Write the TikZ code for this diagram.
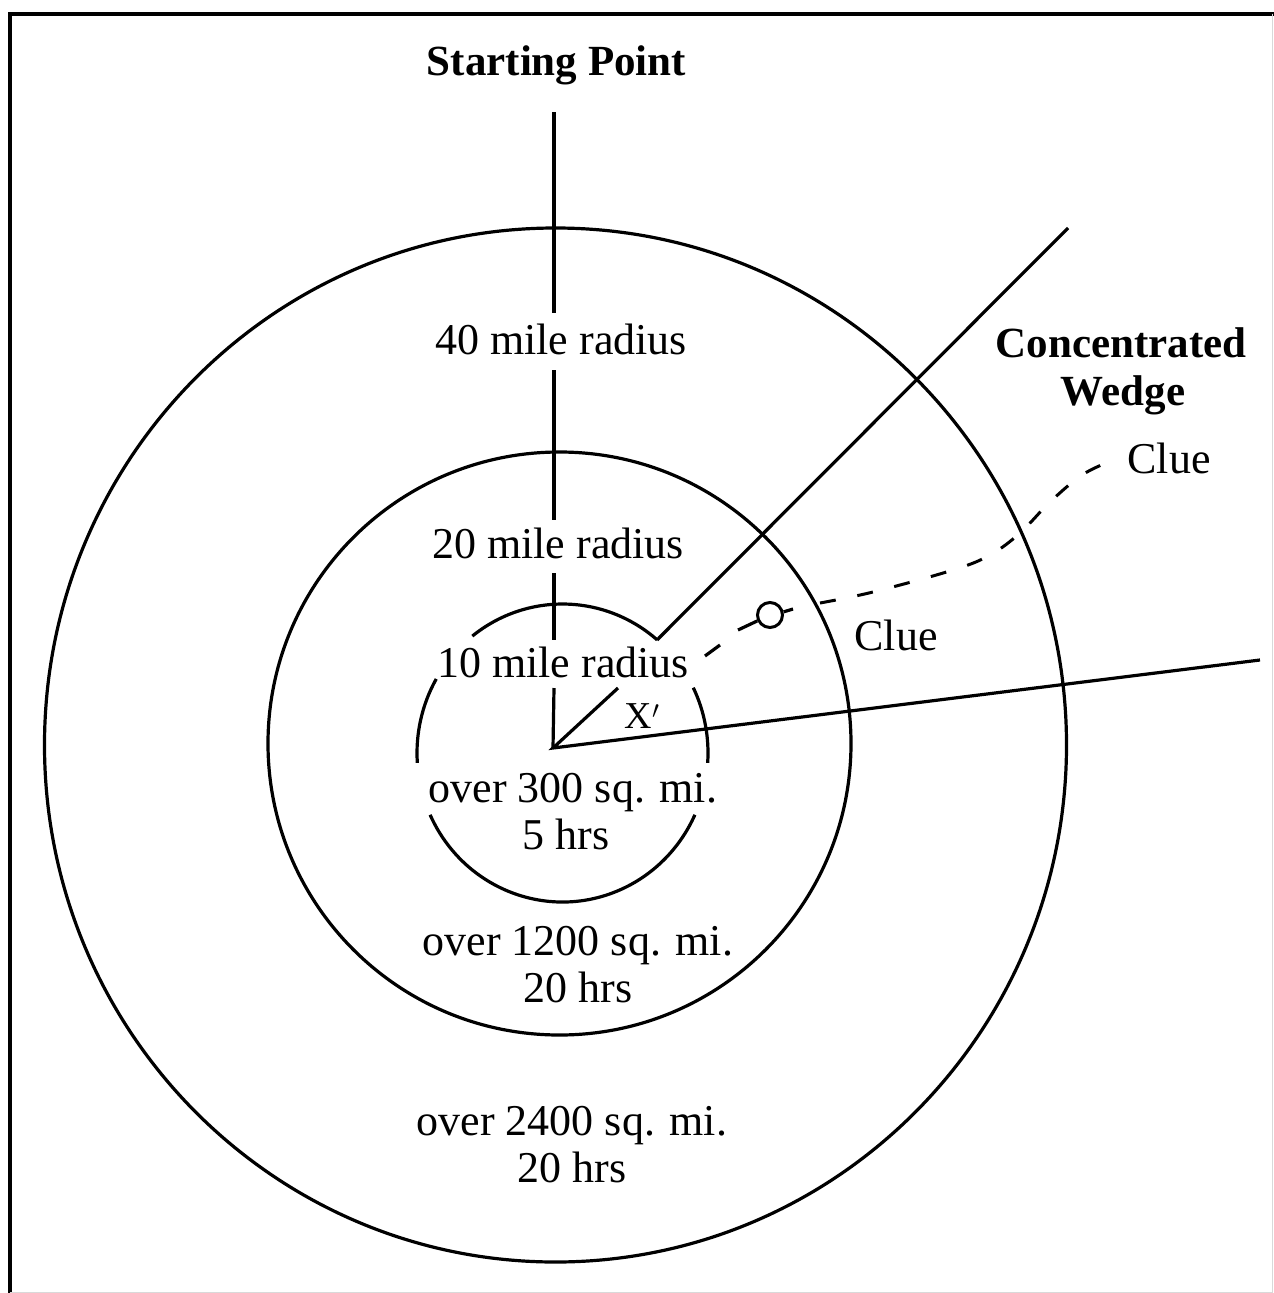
\documentclass[tikz,border=0pt]{standalone}
\usepackage{fontspec}
\setmainfont{Liberation Serif}
\begin{document}
\begin{tikzpicture}[x=1pt,y=-1pt,
  ln/.style={line width=3.2pt},
  lbl/.style={inner sep=0pt, anchor=base, font=\fontsize{44}{47}\selectfont},
  blbl/.style={inner sep=0pt, anchor=base, font=\fontsize{43}{48}\selectfont\bfseries},
  dsh/.style={line width=3pt, dash pattern=on 16pt off 22pt}]
\useasboundingbox (0,0) rectangle (1274,1293);
% frame
\draw[line width=4pt] (9.5,1293) -- (9.5,13.5) -- (1274,13.5);
\draw[line width=1pt, black!15] (1272,13.5) -- (1272,1292) -- (9.5,1292);
% centres
\coordinate (O) at (553,748);
\coordinate (C1) at (555.5,745);
\coordinate (C2) at (559.5,743.5);
\coordinate (C3) at (562.5,753);
% circles
\draw[ln] (C1) ellipse [x radius=511, y radius=517];
\draw[ln] (C2) ellipse [x radius=291.5, y radius=291.5];
\foreach \a/\b in {-49.4/-128.3, -150.2/-183.8, -204.5/-335.5, 3.8/-26}
  \draw[ln] ([shift={(\a:145.5 and 149)}]C3) arc[start angle=\a, end angle=\b, x radius=145.5, y radius=149];
% vertical line from starting point
\coordinate (v0) at (554,112);
\coordinate (v1) at (554,313);
\coordinate (v2) at (554,370);
\coordinate (v3) at (554,520);
\coordinate (v4) at (554,573);
\coordinate (v5) at (554,640);
\coordinate (v6) at (554,688);
\draw[ln] (v0) -- (v1);
\draw[ln] (v2) -- (v3);
\draw[ln] (v4) -- (v5);
\draw[ln] (v6) -- (O);
% wedge
\coordinate (w1) at (618,688);
\coordinate (w2) at (657,640);
\coordinate (w3) at (1068,228);
\coordinate (w4) at (1260,660);
\draw[ln, line join=miter] (w1) -- (O) -- (w4);
\draw[ln] (w2) -- (w3);
% clue trail
\node[draw, circle, line width=3pt, minimum size=25pt, inner sep=0pt] (clueO) at (770,615) {};
\coordinate (d1) at (705,656);
\coordinate (d2) at (720,645);
\coordinate (d3) at (738,630);
\coordinate (d4) at (793,609);
\draw[ln] (d1) -- (d2);
\draw[ln] (d3) -- (clueO.205);
\draw[ln] (clueO.13) -- (d4);
\draw[dsh] plot[smooth, tension=0.6] coordinates {(820,603) (873,592) (953,570) (990,555) (1020,533) (1050,502) (1082,475) (1111,461)};
% labels
\node[blbl] (start) at (556.5,75) {Starting Point};
\node[lbl] (r40) at (561,354) {40 mile radius};
\node[lbl] (r20) at (558,558) {20 mile radius};
\node[lbl] (r10) at (563,677) {10 mile radius};
\node[inner sep=0pt, anchor=base, font=\fontsize{38}{40}\selectfont] (xp) at (642,728) {X$'$};
\node[lbl] (a1) at (573,802) {over 300 sq. mi.};
\node[lbl] (a2) at (566,849) {5 hrs};
\node[lbl] (b1) at (578,955) {over 1200 sq. mi.};
\node[lbl] (b2) at (578,1002) {20 hrs};
\node[lbl] (c1) at (572,1135) {over 2400 sq. mi.};
\node[lbl] (c2) at (572,1182) {20 hrs};
\node[blbl] (cw1) at (1121,357) {Concentrated};
\node[blbl] (cw2) at (1123,405) {Wedge};
\node[lbl] (clueA) at (1169,473) {Clue};
\node[lbl] (clueB) at (896,650) {Clue};
\end{tikzpicture}
\end{document}
